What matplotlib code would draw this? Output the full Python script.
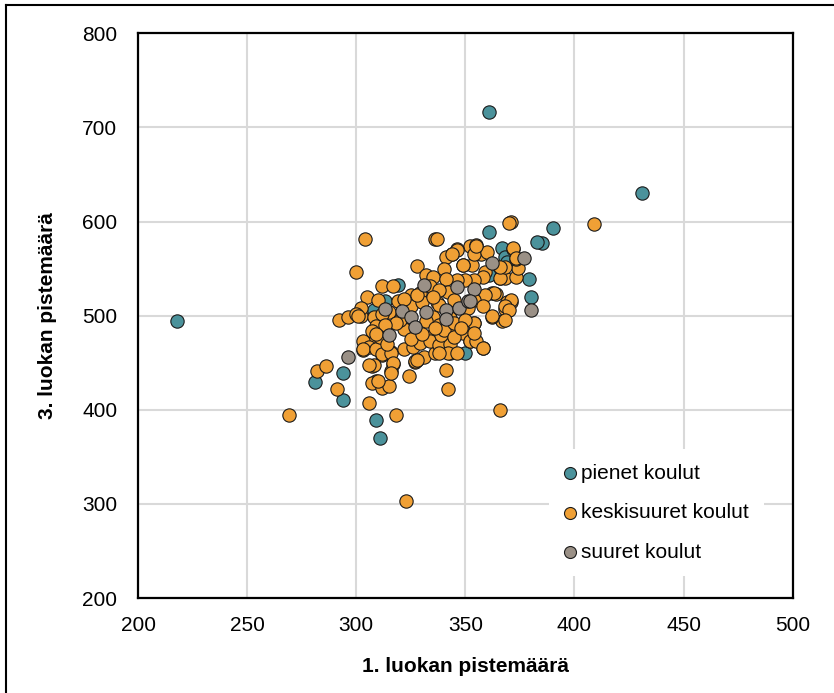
import matplotlib
matplotlib.use("Agg")
import matplotlib.pyplot as plt
from matplotlib.lines import Line2D

plt.rcParams['font.family'] = ['Liberation Sans', 'DejaVu Sans']

# pienet koulut (small schools)
small_x = [218, 361, 431, 390, 385, 361, 367, 368, 369, 379, 380, 366, 361, 383,
           319, 308, 313, 350, 281, 294, 294, 309, 311]
small_y = [494, 716, 630, 593, 577, 589, 572, 562, 557, 539, 520, 540, 543, 578,
           533, 506, 516, 460, 430, 439, 410, 389, 370]

# keskisuuret koulut (medium schools)
mid_x = [269, 323, 366, 409, 371, 370, 304, 336, 300, 282, 286, 291, 292, 296,
         302, 306, 318, 342, 341, 324, 309, 307, 312, 315, 317, 316, 307, 310,
         303, 306, 312, 316, 327, 328, 331, 336, 343, 352, 358, 354, 367, 362,
         362, 368, 371, 368, 364, 366, 373, 374, 373, 372, 357, 352, 346, 344,
         341, 353, 349, 328, 332, 335, 312, 317, 329, 325, 334, 305, 310, 319,
         324, 302, 300, 315, 337, 337, 346, 344, 355, 354, 360, 355, 349, 340,
         359, 372, 373, 368, 366, 358, 354, 350, 346, 341, 363, 359, 354, 369,
         371, 342, 338, 358, 368, 370, 338, 345, 351, 301, 308, 312, 309, 303,
         306, 303, 309, 312, 316, 317, 308, 316, 306, 327, 328, 322, 326, 329,
         322, 320, 335, 334, 338, 335, 332, 362, 368, 354, 349, 352, 355, 358,
         343, 342, 338, 346, 339, 344, 354, 325, 330, 335, 338, 343, 340, 345,
         328, 322, 318, 313, 325, 330, 336, 345, 350, 348, 307, 311, 314, 309]
mid_y = [395, 303, 400, 597, 600, 598, 581, 581, 546, 441, 447, 422, 495, 499,
         500, 407, 394, 422, 442, 436, 431, 428, 423, 425, 449, 441, 447, 431,
         464, 472, 458, 461, 451, 453, 456, 460, 460, 473, 466, 492, 494, 499,
         524, 507, 514, 540, 523, 540, 541, 551, 560, 571, 566, 574, 571, 566,
         562, 554, 554, 553, 543, 541, 532, 531, 524, 522, 531, 520, 517, 516,
         515, 508, 502, 504, 515, 581, 570, 566, 575, 566, 568, 574, 554, 550,
         546, 572, 561, 552, 552, 541, 538, 538, 538, 539, 524, 522, 517, 515,
         517, 525, 527, 510, 510, 506, 511, 517, 508, 500, 499, 502, 489, 473,
         467, 465, 465, 459, 460, 450, 448, 439, 448, 452, 453, 465, 467, 471,
         486, 495, 479, 473, 469, 499, 494, 500, 495, 492, 482, 473, 473, 466,
         470, 460, 460, 460, 479, 490, 482, 510, 515, 520, 490, 498, 485, 492,
         522, 518, 492, 490, 475, 480, 487, 477, 495, 487, 484, 477, 470, 481]

# suuret koulut (large schools)
big_x = [296, 315, 313, 321, 325, 327, 331, 332, 341, 341, 346, 347, 351, 354,
         352, 362, 377, 380]
big_y = [456, 479, 507, 505, 499, 488, 533, 504, 506, 496, 530, 508, 516, 528,
         516, 556, 561, 506]

col_small = '#4b929b'
col_mid = '#f0a035'
col_big = '#9a9086'

fig = plt.figure(figsize=(8.34, 6.93), dpi=100)
ax = fig.add_axes([0.1655, 0.137, 0.785, 0.815])

kw = dict(s=92, edgecolors='#1a1a1a', linewidths=0.8, zorder=3)
ax.scatter(small_x, small_y, c=col_small, label='pienet koulut', **kw)
ax.scatter(mid_x, mid_y, c=col_mid, label='keskisuuret koulut', **kw)
ax.scatter(big_x, big_y, c=col_big, label='suuret koulut', **kw)

ax.set_xlim(200, 500)
ax.set_ylim(200, 800)
ax.set_xticks(range(200, 501, 50))
ax.set_yticks(range(200, 801, 100))
ax.grid(True, color='#d9d9d9', linewidth=1.5, zorder=0)
ax.set_axisbelow(True)
for sp in ax.spines.values():
    sp.set_linewidth(1.6)
    sp.set_color('black')
ax.tick_params(axis='x', length=0, labelsize=15, pad=13)
ax.tick_params(axis='y', length=0, labelsize=15, pad=15)

ax.set_xlabel('1. luokan pistemäärä', fontsize=15, fontweight='bold', labelpad=16)
ax.set_ylabel('3. luokan pistemäärä', fontsize=15, fontweight='bold', labelpad=18)

leg = ax.legend(loc='lower left', bbox_to_anchor=(0.612, 0.02), fontsize=15,
                frameon=True, facecolor='white', edgecolor='none', framealpha=1,
                handlelength=0.6, handletextpad=0.25, labelspacing=0.98,
                markerscale=0.9, borderpad=0.7)

# outer frame: only top and left edges show in the picture
fig.add_artist(Line2D([0.0075, 1.0], [0.9925, 0.9925], transform=fig.transFigure,
                      color='black', linewidth=1.5))
fig.add_artist(Line2D([0.0075, 0.0075], [0.0, 0.9925], transform=fig.transFigure,
                      color='black', linewidth=1.5))

fig.savefig('out.png', dpi=100)
